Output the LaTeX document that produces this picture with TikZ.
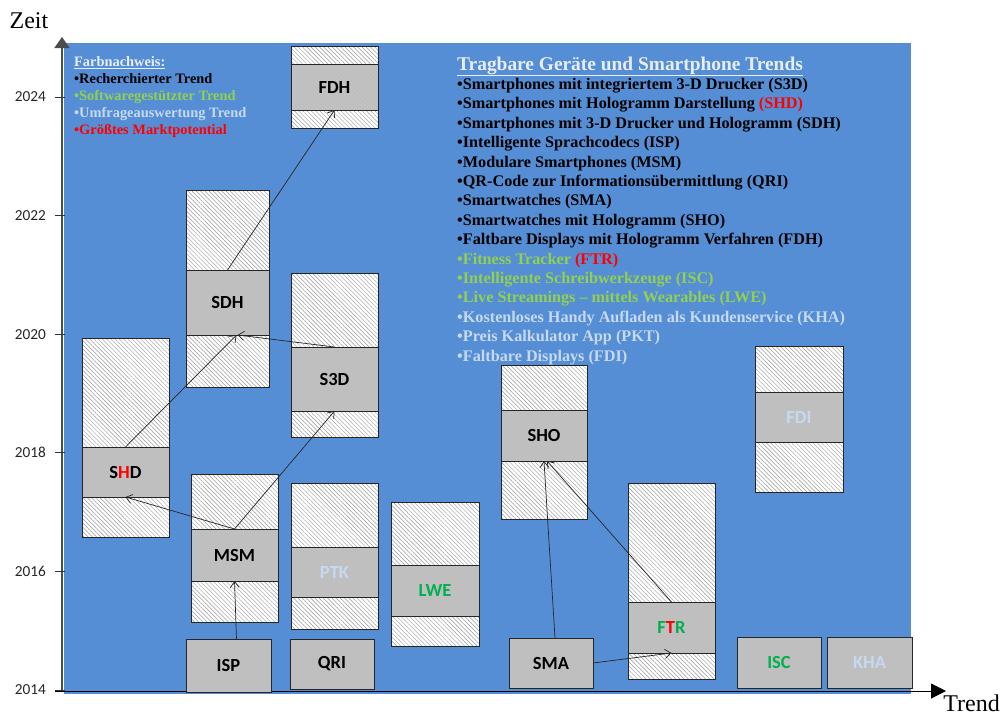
\documentclass[tikz,border=0pt]{standalone}
\usepackage{fontspec}
\setmainfont{Liberation Serif}
\newfontfamily\calfont{Carlito}
\usetikzlibrary{arrows.meta,patterns.meta}

\definecolor{bgblue}{RGB}{85,142,213}
\definecolor{lgreen}{RGB}{146,208,80}
\definecolor{lblue}{RGB}{198,217,241}
\definecolor{dgreen}{RGB}{0,176,80}
\definecolor{boxgray}{RGB}{191,191,191}
\definecolor{titlecol}{RGB}{232,238,248}

\tikzset{
  hatchbox/.style={draw=black!85, line width=0.8pt, preaction={fill=white},
    pattern={Lines[angle=-45,distance=3pt,line width=0.45pt]}, pattern color=black!40,
    inner sep=0pt, outer sep=0pt},
  graybox/.style={draw=black!85, line width=0.8pt, fill=boxgray, inner sep=0pt, outer sep=0pt,
    font=\calfont\bfseries\fontsize{18.5}{22}\selectfont},
  grayhatch/.style={preaction={fill=boxgray}, pattern={Lines[angle=-45,distance=3pt,line width=0.45pt]}, pattern color=black!22},
  arr/.style={-{Straight Barb[length=6pt,width=9pt]}, line width=0.7pt, draw=black!85},
  ticklab/.style={anchor=east, inner sep=0pt, font=\calfont\fontsize{15.3}{18}\selectfont, text=black!85},
  legline/.style={anchor=base west, inner sep=0pt, font=\bfseries\fontsize{14.4}{17}\selectfont},
  listline/.style={anchor=base west, inner sep=0pt, font=\bfseries\fontsize{16.2}{19}\selectfont},
  axislab/.style={inner sep=0pt, font=\fontsize{24}{28}\selectfont},
}

% #1 name, #2 left, #3 right, #4 top, #5 gray top, #6 gray bottom, #7 bottom, #8 label, #9 extra style
\newcommand\trendbox[9]{%
  \node[hatchbox, anchor=north west, minimum width={#3-#2}, minimum height={#7-#4}] (#1h) at (#2,#4) {};
  \node[graybox, anchor=north west, minimum width={#3-#2}, minimum height={#6-#5}, #9] (#1) at (#2,#5) {#8};
}
% #1 name, #2 left, #3 right, #4 top, #5 bottom, #6 label
\newcommand\plainbox[6]{%
  \node[graybox, anchor=north west, minimum width={#3-#2}, minimum height={#5-#4}] (#1) at (#2,#4) {#6};
}

\begin{document}
\begin{tikzpicture}[x=1pt,y=-1pt]
\useasboundingbox (0,0) rectangle (1004,716);

% background
\fill[bgblue] (64,43) rectangle (911,694);

% axes
\coordinate (yfoot) at (62,691);
\coordinate (ytip) at (62,37);
\coordinate (xfoot) at (55,691);
\coordinate (xtip) at (946,691);
\draw[line width=1.5pt, draw=black!70, -{Triangle[length=11pt,width=15pt]}] (yfoot) -- (ytip);
\draw[line width=1pt, draw=black, -{Triangle[length=15pt,width=15pt]}] (xfoot) -- (xtip);

\foreach \yr/\yy in {2014/690, 2016/571.4, 2018/452.8, 2020/334.2, 2022/215.6, 2024/97} {
  \coordinate (tl\yr) at (55,\yy);
  \coordinate (tr\yr) at (65,\yy);
  \draw[line width=1pt, black!80] (tl\yr) -- (tr\yr);
  \node[ticklab] (tick\yr) at (46,\yy) {\yr};
}

\node[axislab] (zeit) at (29,21) {Zeit};
\node[axislab, anchor=base east] (trend) at (1000,711) {Trend};

% legend
\node[legline, text=titlecol] (leg0) at (74,66.7) {\underline{Farbnachweis:}};
\node[legline, text=black] (leg1) at (74,83.7) {•Recherchierter Trend};
\node[legline, text=lgreen] (leg2) at (74,100.7) {•Softwaregestützter Trend};
\node[legline, text=lblue] (leg3) at (74,117.2) {•Umfrageauswertung Trend};
\node[legline, text=red] (leg4) at (74,134) {•Größtes Marktpotential};

% title list
\node[anchor=base west, inner sep=0pt, font=\bfseries\fontsize{19.4}{22}\selectfont, text=titlecol] (title) at (457,70) {\underline{Tragbare Geräte und Smartphone Trends}};
\node[listline] (it1) at (457,89.5) {•Smartphones mit integriertem 3-D Drucker (S3D)};
\node[listline] (it2) at (457,108.9) {•Smartphones mit Hologramm Darstellung \textcolor{red}{(SHD)}};
\node[listline] (it3) at (457,128.3) {•Smartphones mit 3-D Drucker und Hologramm (SDH)};
\node[listline] (it4) at (457,147.7) {•Intelligente Sprachcodecs (ISP)};
\node[listline] (it5) at (457,167.1) {•Modulare Smartphones (MSM)};
\node[listline] (it6) at (457,186.5) {•QR-Code zur Informationsübermittlung (QRI)};
\node[listline] (it7) at (457,205.9) {•Smartwatches (SMA)};
\node[listline] (it8) at (457,225.3) {•Smartwatches mit Hologramm (SHO)};
\node[listline] (it9) at (457,244.7) {•Faltbare Displays mit Hologramm Verfahren (FDH)};
\node[listline, text=lgreen] (it10) at (457,264.1) {•Fitness Tracker \textcolor{red}{(FTR)}};
\node[listline, text=lgreen] (it11) at (457,283.5) {•Intelligente Schreibwerkzeuge (ISC)};
\node[listline, text=lgreen] (it12) at (457,302.9) {•Live Streamings – mittels Wearables (LWE)};
\node[listline, text=lblue] (it13) at (457,322.3) {•Kostenloses Handy Aufladen als Kundenservice (KHA)};
\node[listline, text=lblue] (it14) at (457,341.7) {•Preis Kalkulator App (PKT)};
\node[listline, text=lblue] (it15) at (457,361.1) {•Faltbare Displays (FDI)};

% boxes
\trendbox{SHD}{82}{169}{338}{447}{497}{537}{S\textcolor{red}{H}D}{}
\trendbox{MSM}{191}{278}{474}{529}{581}{622}{MSM}{}
\trendbox{PTK}{291}{378}{483}{547}{597}{629}{\textcolor{lblue}{PTK}}{}
\trendbox{SDH}{186}{269}{190}{270}{335}{387}{SDH}{}
\trendbox{S3D}{291}{378}{273}{347}{411}{437}{S3D}{}
\trendbox{FDH}{291}{378}{46}{64}{110}{128}{FDH}{grayhatch}
\trendbox{LWE}{391}{479}{502}{565}{616}{646}{\textcolor{dgreen}{LWE}}{}
\trendbox{SHO}{501}{587}{365}{410}{461}{519}{SHO}{}
\trendbox{FTR}{628}{715}{483}{602}{653}{679}{\textcolor{dgreen}{F}\textcolor{red}{T}\textcolor{dgreen}{R}}{}
\trendbox{FDI}{755}{843}{346}{392}{442}{492}{\textcolor{lblue}{FDI}}{}

\plainbox{ISP}{186}{271}{639}{692}{ISP}
\plainbox{QRI}{290}{374}{639}{689}{QRI}
\plainbox{SMA}{509}{593}{638}{688}{SMA}
\plainbox{ISC}{737}{821}{637}{688}{\textcolor{dgreen}{ISC}}
\plainbox{KHA}{827}{912}{637}{688}{\textcolor{lblue}{KHA}}

% connectors
\draw[arr] ([xshift=8pt]ISP.north) -- (MSM.south);
\draw[arr] (MSM.north) -- (SHD.south);
\draw[arr] (MSM.north) -- (S3D.south);
\draw[arr] (SHD.north) -- ([xshift=9pt]SDH.south);
\draw[arr] (S3D.north) -- ([xshift=10pt]SDH.south);
\draw[arr] (SDH.north) -- (FDH.south);
\draw[arr] ([xshift=4pt]SMA.north) -- (SHO.south);
\draw[arr] (FTR.north) -- ([xshift=3pt]SHO.south);
\draw[arr] (SMA.east) -- (FTR.south);
\end{tikzpicture}
\end{document}
